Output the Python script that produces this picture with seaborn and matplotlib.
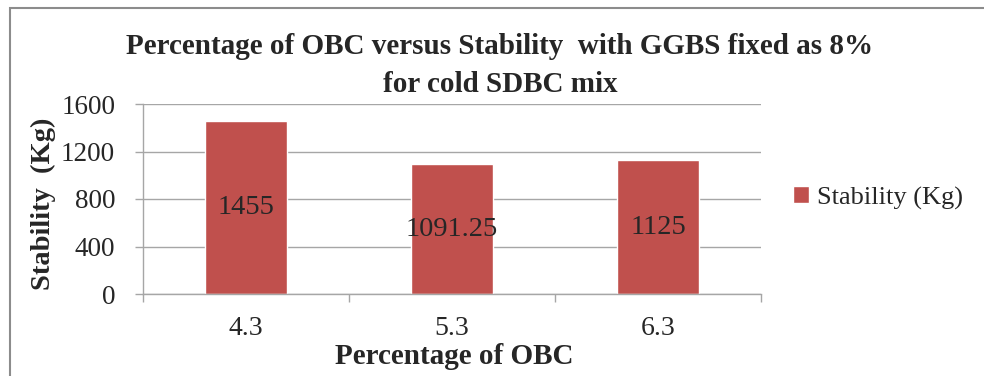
import matplotlib
matplotlib.use("Agg")
import matplotlib.pyplot as plt
from matplotlib.patches import Rectangle
import seaborn as sns
import pandas as pd

categories = ["4.3", "5.3", "6.3"]
stability = [1455, 1091.25, 1125]
value_labels = ["1455", "1091.25", "1125"]
y_ticks = [0, 400, 800, 1200, 1600]

sns.set_theme(style="white")
plt.rcParams["font.family"] = ["Liberation Serif", "DejaVu Serif"]

df = pd.DataFrame({"OBC": categories, "Stability (Kg)": stability})

W, H = 984, 376
fig = plt.figure(figsize=(W / 100, H / 100), dpi=100)
ax = fig.add_axes([143 / W, 1 - 294 / H, (761 - 143) / W, (294 - 104) / H])

bar_color = "#C0504D"
grid_color = "#A6A6A6"
sns.barplot(data=df, x="OBC", y="Stability (Kg)", color=bar_color, width=0.4,
            ax=ax, label="Stability (Kg)", saturation=1)

ax.set_ylim(0, 1600)
ax.set_xlim(-0.5, 2.5)
ax.set_yticks(y_ticks)
ax.set_yticklabels([str(t) for t in y_ticks], fontsize=19.5)
ax.yaxis.grid(True, color=grid_color, linewidth=1.0)
ax.set_axisbelow(True)

# category boundary ticks on x, labels at category centres
ax.set_xticks([0, 1, 2])
ax.set_xticklabels(categories, fontsize=20)
ax.tick_params(axis="x", length=0, pad=16)
ax.set_xticks([-0.5, 0.5, 1.5, 2.5], minor=True)
ax.tick_params(axis="x", which="minor", length=6, color=grid_color, width=1, bottom=True)
ax.tick_params(axis="y", length=6, color=grid_color, width=1, left=True, pad=14)

for side in ["top", "right"]:
    ax.spines[side].set_visible(False)
for side in ["left", "bottom"]:
    ax.spines[side].set_color(grid_color)
    ax.spines[side].set_linewidth(1.0)

for container in ax.containers:
    ax.bar_label(container, labels=value_labels, label_type="center", fontsize=20.5)

ax.set_xlabel("Percentage of OBC", fontsize=21, fontweight="bold")
ax.xaxis.set_label_coords((454 - 143) / 618, (294 - 357) / 190)
ax.xaxis.label.set_va("center")
ax.set_ylabel("Stability  (Kg)", fontsize=20.5, fontweight="bold")
ax.yaxis.set_label_coords((43 - 143) / 618, (294 - 204) / 190)
ax.yaxis.label.set_va("center")

fig.text(500 / W, 1 - 47 / H, "Percentage of OBC versus Stability  with GGBS fixed as 8%",
         ha="center", va="center", fontsize=21, fontweight="bold")
fig.text(500 / W, 1 - 85 / H, "for cold SDBC mix",
         ha="center", va="center", fontsize=21, fontweight="bold")

ax.legend(loc="center left", bbox_to_anchor=(793 / W, 1 - 198 / H),
          bbox_transform=fig.transFigure, frameon=False, fontsize=19,
          handlelength=0.6, handleheight=0.6, handletextpad=0.3,
          borderpad=0, borderaxespad=0)

# chart frame
fig.patches.append(Rectangle((10 / W, -0.1), 1.2, 1 - 8 / H + 0.1,
                             transform=fig.transFigure, fill=False,
                             edgecolor="#8C8C8C", linewidth=1.5))

fig.savefig("out.png", dpi=100)
